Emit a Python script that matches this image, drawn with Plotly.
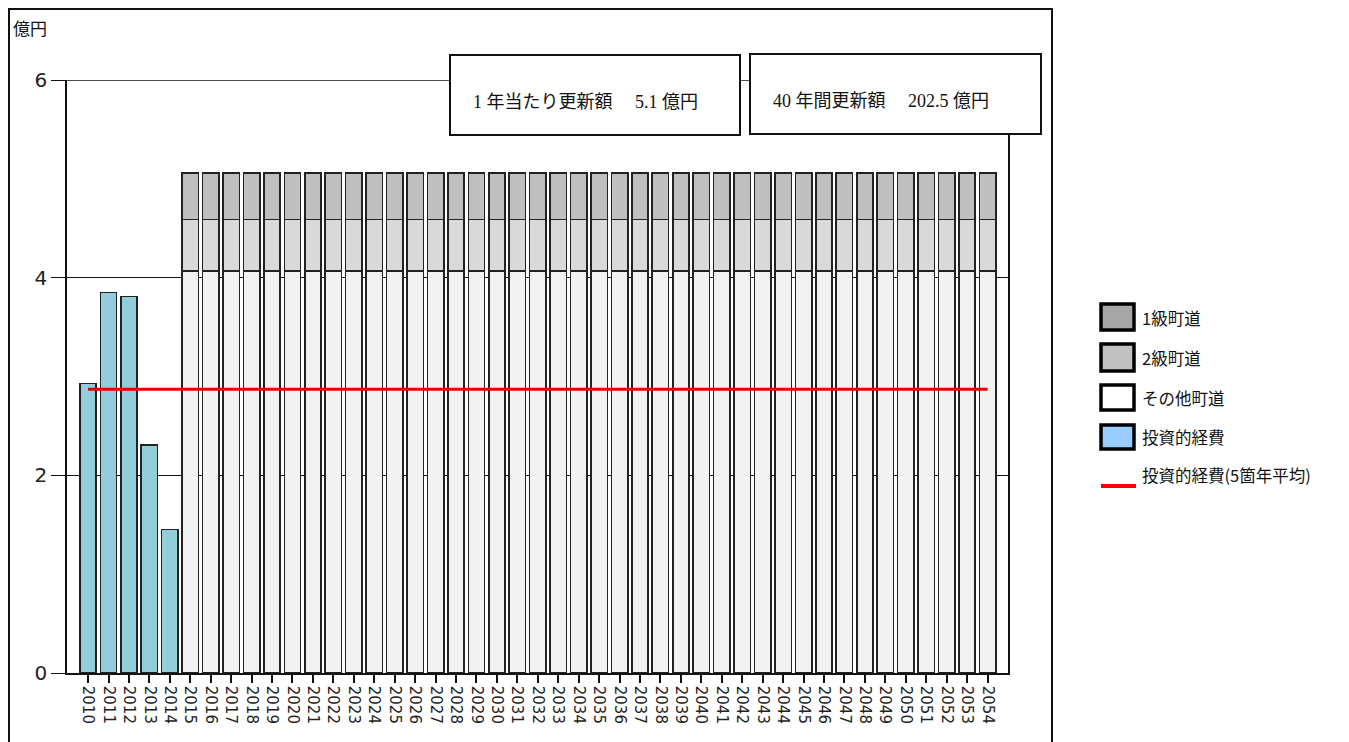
import plotly.graph_objects as go

# ---------------- data ----------------
years = [str(y) for y in range(2010, 2055)]
invest_years = years[:5]
invest_vals = [2.93, 3.85, 3.81, 2.31, 1.45]          # 投資的経費
renew_years = years[5:]
other_vals = [4.07] * 40                              # その他町道
class2_vals = [0.52] * 40                             # 2級町道
class1_vals = [0.47] * 40                             # 1級町道
avg5_vals = [2.87] * 45                               # 投資的経費(5箇年平均)
y_ticks = [0, 2, 4, 6]
box_texts = ["1 年当たり更新額\u3000 5.1 億円", "40 年間更新額\u3000 202.5 億円"]
legend_names = ["1級町道", "2級町道", "その他町道", "投資的経費", "投資的経費(5箇年平均)"]

# ---------------- layout helpers ----------------
W, H = 1349, 742
L, R, T, B = 67, 1008, 80, 673


def px(x):
    return (x - L) / (R - L)


def py(y):
    return (B - y) / (B - T)


JP = "Noto Sans CJK JP"
edge = dict(color="#222222", width=1.6)

fig = go.Figure()
fig.add_trace(go.Bar(x=invest_years, y=invest_vals, name="投資的経費",
                     marker=dict(color="#92CDDC", line=edge), width=0.8))
fig.add_trace(go.Bar(x=renew_years, y=other_vals, name="その他町道",
                     marker=dict(color="#F2F2F2", line=edge), width=0.8))
fig.add_trace(go.Bar(x=renew_years, y=class2_vals, name="2級町道",
                     marker=dict(color="#D9D9D9", line=edge), width=0.8))
fig.add_trace(go.Bar(x=renew_years, y=class1_vals, name="1級町道",
                     marker=dict(color="#BFBFBF", line=edge), width=0.8))
fig.add_trace(go.Scatter(x=years, y=avg5_vals, mode="lines", name="投資的経費(5箇年平均)",
                         line=dict(color="#E00000", width=3)))

shapes = []
annotations = []

# top gridline (value 6)
shapes.append(dict(type="line", xref="paper", yref="y", x0=0, x1=1, y0=max(y_ticks), y1=max(y_ticks),
                   line=dict(color="#111111", width=1.3), layer="below"))

# outer frame
shapes.append(dict(type="rect", xref="paper", yref="paper",
                   x0=px(9), x1=px(1052), y0=py(770), y1=py(9),
                   line=dict(color="#111111", width=2), fillcolor="rgba(0,0,0,0)",
                   layer="above"))

# info boxes
for (x0, x1, y0, y1), txt in zip([(450, 740, 55, 135), (750, 1041, 54, 134)], box_texts):
    shapes.append(dict(type="rect", xref="paper", yref="paper",
                       x0=px(x0), x1=px(x1), y0=py(y1), y1=py(y0),
                       line=dict(color="#111111", width=2), fillcolor="white",
                       layer="above"))
    annotations.append(dict(xref="paper", yref="paper", x=px(x0 + 21), y=py((y0 + y1) / 2 + 7),
                            xanchor="left", yanchor="middle", showarrow=False, text=txt,
                            font=dict(family="Liberation Serif, " + JP, size=18, color="#111111")))

# manual legend
leg_boxes = [(304, 330, "#A6A6A6"), (344, 371, "#C0C0C0"), (385, 410, "#FFFFFF"), (425, 449, "#99CCFF")]
text_y = [318, 358, 398, 437, 475]
for (y0, y1, col) in leg_boxes:
    shapes.append(dict(type="rect", xref="paper", yref="paper",
                       x0=px(1101), x1=px(1134), y0=py(y1), y1=py(y0),
                       line=dict(color="#000000", width=3.5), fillcolor=col, layer="above"))
shapes.append(dict(type="line", xref="paper", yref="paper",
                   x0=px(1101), x1=px(1136), y0=py(486), y1=py(486),
                   line=dict(color="#FF0000", width=4), layer="above"))
for name, ty in zip(legend_names, text_y):
    annotations.append(dict(xref="paper", yref="paper", x=px(1140), y=py(ty),
                            xanchor="left", yanchor="middle", showarrow=False, text=name,
                            font=dict(family=JP, size=16.5, color="#111111")))

# unit label
annotations.append(dict(xref="paper", yref="paper", x=px(11), y=py(28),
                        xanchor="left", yanchor="middle", showarrow=False, text="億円",
                        font=dict(family=JP, size=17, color="#111111")))

fig.update_layout(
    width=W, height=H,
    margin=dict(l=L, r=W - R, t=T, b=H - B, pad=0),
    paper_bgcolor="white", plot_bgcolor="white",
    barmode="stack", bargap=0.2,
    showlegend=False,
    font=dict(family=JP, color="#111111"),
    shapes=shapes, annotations=annotations,
    xaxis=dict(type="category", categoryorder="array", categoryarray=years,
               range=[-1.03, 45], showgrid=False, showline=True, linecolor="#111111",
               linewidth=1.5, ticks="outside", ticklen=8, tickcolor="#111111", tickwidth=1.5,
               tickangle=90, tickfont=dict(family="DejaVu Sans", size=15, color="#222222"),
               zeroline=False, fixedrange=True),
    yaxis=dict(range=[0, 6], tickvals=y_ticks, ticktext=[str(v) for v in y_ticks],
               showgrid=True, gridcolor="#111111", gridwidth=1.3,
               showline=True, linecolor="#111111", linewidth=1.5, mirror=True,
               ticks="outside", ticklen=14, tickcolor="#111111", tickwidth=1.3,
               tickfont=dict(family="DejaVu Sans", size=20, color="#222222"),
               zeroline=False, fixedrange=True),
)

fig.write_html("out.html")
